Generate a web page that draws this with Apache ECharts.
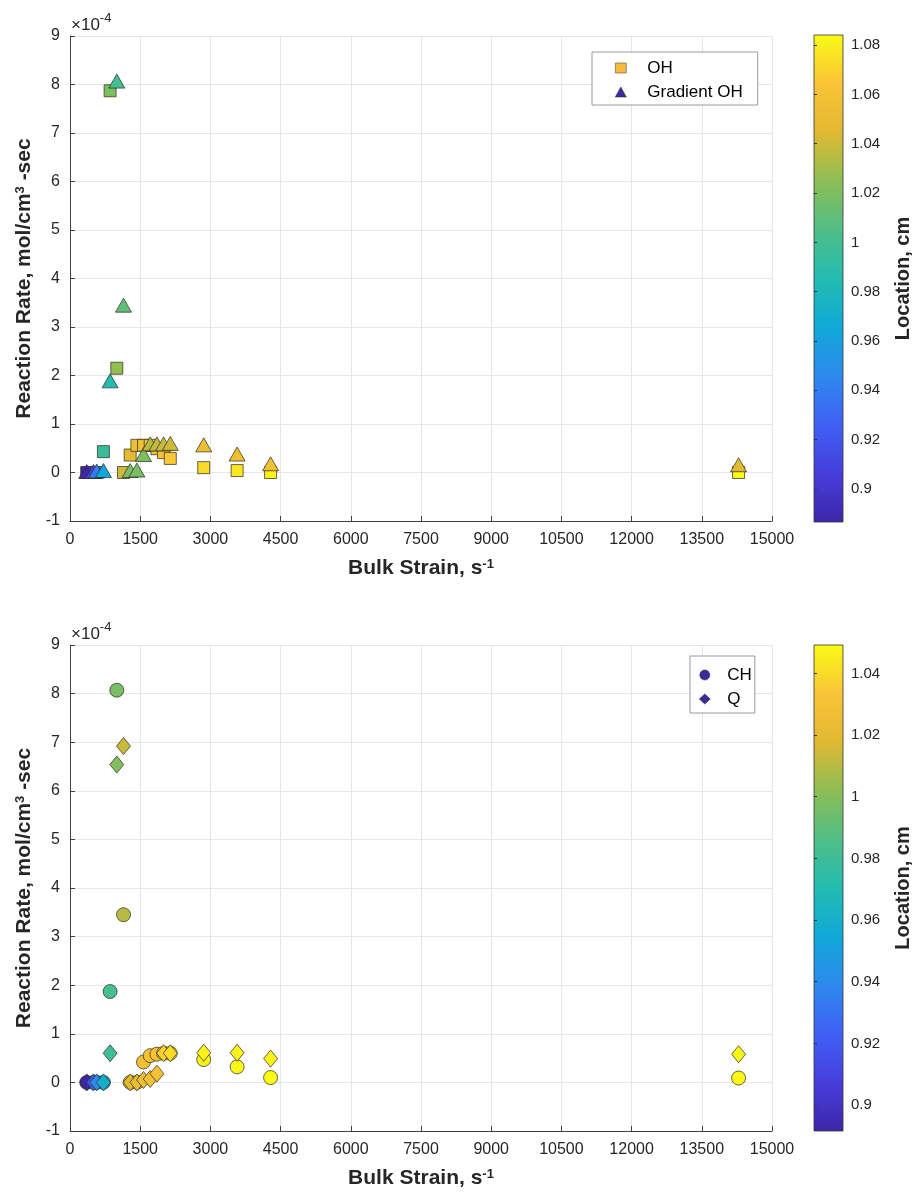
<!DOCTYPE html>
<html><head><meta charset="utf-8">
<script src="https://cdn.jsdelivr.net/npm/echarts@6/dist/echarts.min.js"></script>
<style>html,body{margin:0;padding:0;background:#fff}#c{width:914px;height:1195px}</style>
</head><body><div id="c"></div>
<script>
// Bulk strain (s^-1), shared by all four series
const strain = [357, 500, 571, 714, 857, 1000, 1143, 1286, 1429, 1571, 1714, 1857, 2000, 2143, 2857, 3571, 4286, 14286];
// Reaction rates in units of 1e-4 mol/cm^3-sec, and locations (cm)
const ohRate   = [0, 0, 0, 0.43, 7.87, 2.15, 0.0, 0.36, 0.56, 0.56, 0.56, 0.49, 0.41, 0.29, 0.10, 0.04, 0.0, 0.0];
const ohLoc    = [0.8866, 0.91, 0.94, 0.995, 1.02, 1.027, 1.04, 1.047, 1.055, 1.057, 1.058, 1.058, 1.062, 1.066, 1.072, 1.077, 1.081, 1.0841];
const gradRate = [0.02, 0.02, 0.03, 0.04, 1.89, 8.07, 3.45, 0.04, 0.05, 0.37, 0.59, 0.59, 0.59, 0.60, 0.57, 0.38, 0.18, 0.16];
const gradLoc  = [0.8866, 0.91, 0.94, 0.965, 0.985, 1.0, 1.01, 1.018, 1.018, 1.02, 1.035, 1.037, 1.038, 1.04, 1.055, 1.055, 1.056, 1.045];
const chRate   = [0, 0, 0, 0, 1.87, 8.07, 3.45, 0, 0, 0.42, 0.55, 0.58, 0.60, 0.60, 0.47, 0.32, 0.10, 0.09];
const chLoc    = [0.8916, 0.93, 0.93, 0.96, 0.983, 0.997, 1.01, 1.02, 1.022, 1.027, 1.03, 1.032, 1.035, 1.036, 1.046, 1.048, 1.049, 1.0492];
const qRate    = [0, 0, 0, 0, 0.60, 6.54, 6.92, 0, 0, 0.05, 0.07, 0.18, 0.60, 0.60, 0.61, 0.61, 0.49, 0.58];
const qLoc     = [0.8916, 0.92, 0.94, 0.96, 0.98, 0.999, 1.013, 1.02, 1.024, 1.026, 1.028, 1.03, 1.037, 1.04, 1.046, 1.047, 1.047, 1.048];
// colour bar ranges and ticks
const cbRangeTop = [0.8866, 1.0841];
const cbRangeBottom = [0.8916, 1.0492];
const cbTicksTop = [0.9, 0.92, 0.94, 0.96, 0.98, 1, 1.02, 1.04, 1.06, 1.08];
const cbTicksBottom = [0.9, 0.92, 0.94, 0.96, 0.98, 1, 1.02, 1.04];
const parula = ['#3e26a8', '#463edc', '#4060f5', '#2d89ee', '#10a8d7', '#22bcb1', '#50be86', '#8cbe55', '#e1b932', '#fac337', '#f9fb15'];

const FONT = 'Liberation Sans, Arial, sans-serif';
const TXT = '#262626';
function pts(rate, loc) { return strain.map((x, i) => [x, rate[i], loc[i]]); }
const grad = {type: 'linear', x: 0, y: 1, x2: 0, y2: 0,
  colorStops: parula.map((c, i) => ({offset: i / (parula.length - 1), color: c}))};

const nameRich = {
  b: {fontSize: 21, fontWeight: 'bold', fontFamily: FONT, color: TXT, lineHeight: 21, verticalAlign: 'bottom'},
  sup: {fontSize: 13, fontWeight: 'bold', fontFamily: FONT, color: TXT, lineHeight: 13, verticalAlign: 'top'}
};
function mainX(gi) {
  return {gridIndex: gi, type: 'value', min: 0, max: 15000, interval: 1500,
    axisLine: {show: true, onZero: false, lineStyle: {color: '#404040', width: 1}},
    axisTick: {show: true, inside: true, length: 5, lineStyle: {color: '#404040'}},
    axisLabel: {color: TXT, fontSize: 16, fontFamily: FONT, margin: 11, formatter: v => String(v)},
    splitLine: {show: true, lineStyle: {color: '#e6e6e6', width: 1}},
    name: '{b|Bulk Strain, s}{sup|-1}', nameLocation: 'middle', nameGap: 37,
    nameTextStyle: {rich: nameRich}};
}
function mainY(gi) {
  return {gridIndex: gi, type: 'value', min: -1, max: 9, interval: 1,
    axisLine: {show: true, onZero: false, lineStyle: {color: '#404040', width: 1}},
    axisTick: {show: true, inside: true, length: 5, lineStyle: {color: '#404040'}},
    axisLabel: {color: TXT, fontSize: 16, fontFamily: FONT, margin: 10},
    splitLine: {show: true, lineStyle: {color: '#e6e6e6', width: 1}},
    name: '{b|Reaction Rate, mol/cm}{sup|3}{b| -sec}', nameLocation: 'middle', nameGap: 30, nameRotate: 90,
    nameTextStyle: {rich: nameRich}};
}
function cbY(gi, range, ticks) {
  return {gridIndex: gi, type: 'value', position: 'right', min: range[0], max: range[1],
    axisLine: {show: false},
    axisTick: {show: true, inside: false, length: 3, customValues: ticks, lineStyle: {color: '#333'}},
    axisLabel: {show: true, customValues: ticks, color: TXT, fontSize: 15, fontFamily: FONT, margin: 8,
      formatter: v => String(parseFloat(Number(v).toFixed(2)))},
    splitLine: {show: false},
    name: 'Location, cm', nameLocation: 'middle', nameRotate: 90, nameGap: 50,
    nameTextStyle: {fontSize: 20, fontWeight: 'bold', fontFamily: FONT, color: TXT}};
}
function cbX(gi) { return {gridIndex: gi, type: 'value', show: false, min: 0, max: 1}; }

const edge = {borderColor: 'rgba(45,45,30,0.8)', borderWidth: 0.9, opacity: 1};
const supTitle = {
  b: {fontSize: 17, fontWeight: 'normal', fontFamily: FONT, color: TXT, lineHeight: 22, verticalAlign: 'bottom'},
  sup: {fontSize: 13, fontWeight: 'normal', fontFamily: FONT, color: TXT, lineHeight: 12, verticalAlign: 'top'}
};
const legendCommon = {orient: 'vertical', backgroundColor: '#fff', borderColor: '#9a9a9a', borderWidth: 1,
  borderRadius: 0, itemWidth: 11, itemHeight: 10, itemGap: 6,
  textStyle: {fontSize: 17, fontFamily: FONT, color: '#000', lineHeight: 18, padding: [0, 0, 0, 16]},
  selectedMode: false};

const option = {
  animation: false,
  backgroundColor: '#fff',
  title: [
    {text: '{b|×10}{sup|-4}', left: 66, top: 7, textStyle: {fontWeight: 'normal', rich: supTitle}},
    {text: '{b|×10}{sup|-4}', left: 66, top: 616, textStyle: {fontWeight: 'normal', rich: supTitle}}
  ],
  grid: [
    {left: 70, top: 36, width: 702, height: 485},
    {left: 70, top: 645, width: 702, height: 486},
    {left: 814, top: 35, width: 31, height: 487, show: true, backgroundColor: grad, borderColor: '#333', borderWidth: 0.8},
    {left: 814, top: 645, width: 31, height: 486, show: true, backgroundColor: grad, borderColor: '#333', borderWidth: 0.8}
  ],
  xAxis: [mainX(0), mainX(1), cbX(2), cbX(3)],
  yAxis: [mainY(0), mainY(1), cbY(2, cbRangeTop, cbTicksTop), cbY(3, cbRangeBottom, cbTicksBottom)],
  legend: [
    Object.assign({}, legendCommon, {left: 592, top: 52, padding: [7, 15, 4, 23],
      data: [{name: 'OH', icon: 'rect', itemStyle: {color: '#f7b93d', borderColor: '#555', borderWidth: 0.6, opacity: 1}},
             {name: 'Gradient OH', icon: 'triangle', itemStyle: {color: '#3a2ca0', borderColor: '#333', borderWidth: 0.6, opacity: 1}}]}),
    Object.assign({}, legendCommon, {left: 690, top: 656, padding: [10, 3, 5, 9],
      textStyle: {fontSize: 17, fontFamily: FONT, color: '#000', lineHeight: 18, padding: [0, 0, 0, 12]},
      data: [{name: 'CH', icon: 'circle', itemStyle: {color: '#3a2ca0', borderColor: '#333', borderWidth: 0.6, opacity: 1}},
             {name: 'Q', icon: 'diamond', itemStyle: {color: '#3a2ca0', borderColor: '#333', borderWidth: 0.6, opacity: 1}}]})
  ],
  visualMap: [
    {type: 'continuous', show: false, seriesIndex: [0, 1], dimension: 2, min: cbRangeTop[0], max: cbRangeTop[1], inRange: {color: parula}},
    {type: 'continuous', show: false, seriesIndex: [2, 3], dimension: 2, min: cbRangeBottom[0], max: cbRangeBottom[1], inRange: {color: parula}}
  ],
  series: [
    {name: 'OH', type: 'scatter', xAxisIndex: 0, yAxisIndex: 0, symbol: 'rect', symbolSize: 12, itemStyle: edge, data: pts(ohRate, ohLoc), z: 2},
    {name: 'Gradient OH', type: 'scatter', xAxisIndex: 0, yAxisIndex: 0, symbol: 'triangle', symbolSize: [16, 14], itemStyle: edge, data: pts(gradRate, gradLoc), z: 3},
    {name: 'CH', type: 'scatter', xAxisIndex: 1, yAxisIndex: 1, symbol: 'circle', symbolSize: 14, itemStyle: edge, data: pts(chRate, chLoc), z: 2},
    {name: 'Q', type: 'scatter', xAxisIndex: 1, yAxisIndex: 1, symbol: 'diamond', symbolSize: [14, 17], itemStyle: edge, data: pts(qRate, qLoc), z: 3}
  ]
};
const chart = echarts.init(document.getElementById('c'), null, {renderer: 'canvas'});
chart.setOption(option);
</script>
</body></html>
